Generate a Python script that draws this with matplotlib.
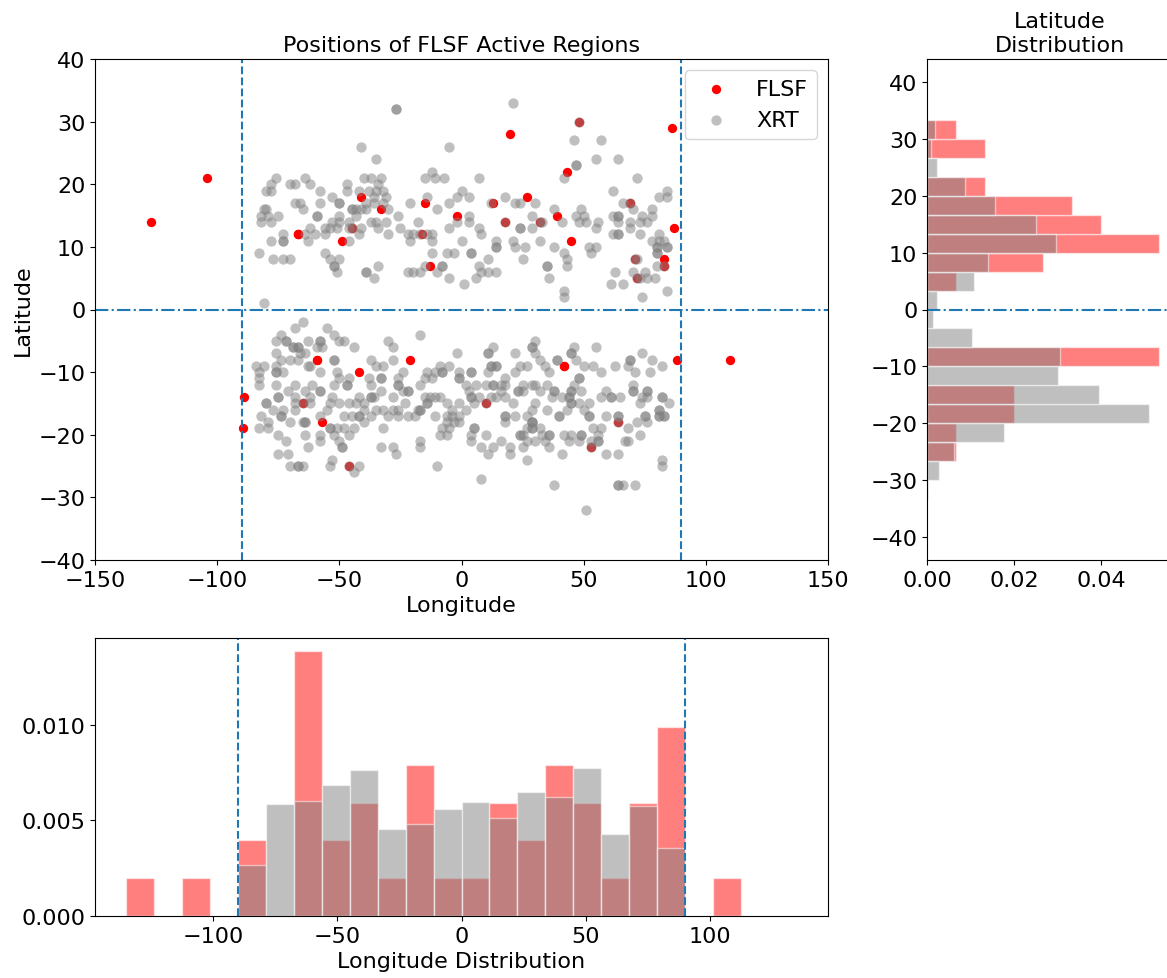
import matplotlib.pyplot as plt
import numpy as np

plt.rcParams['font.size'] = 16

# FLSF active region positions (some regions appear more than once)
flsf_lon = [-127, -104, -67, -67, -67, -49, -41, -44.8, -33, -15, -16, -13, -2, 20, 13,
            18, 27, 32, 39, 48, 43, 45, 69, 71, 72, 83, 83, 86, 87, 110,
            88, -89, -89.5, -65, -59, -59, -57, -42, -46, -21, 10, 42, 42, 53, 64]
flsf_lat = [14, 21, 12, 12, 12, 11, 18, 13, 16, 17, 12, 7, 15, 28, 17,
            14, 18, 14, 15, 30, 22, 11, 17, 8, 5, 8, 7, 29, 13, -8,
            -8, -14, -19, -15, -8, -8, -18, -10, -25, -8, -15, -9, -9, -22, -18]

# XRT regions, grouped by latitude row
xrt_north_lats = [33, 32, 30, 27, 26, 24, 23, 22, 21, 20, 19, 18, 17, 16, 15, 14, 13,
                  12, 11, 10, 9, 8, 7, 6, 5, 4, 3, 2, 1]
xrt_north_lons = [
    [21], [-27, -27], [48], [46, 57], [-41, -5], [-35, 55, 64], [47, 47], [-12],
    [-76, -64, -40, -37, -33, -15, -11, -7, 7, 42, 72],
    [-78, -70, -68, -62, -47, -34],
    [-80, -78, -58, -47, -42, -38, -35, -32, 0, 62, 84],
    [-53, -36, -31, -14, -2, 3, 18, 81, 84],
    [-68, -66, -58, -50, -50, -39, -36, -32, -21, -5, 12, 22, 24, 30, 66, 69],
    [-81, -80, -65, -45, -45, -43, -41, -39, -30, -10, 38, 49, 70, 78],
    [-82, -79, -75, -59, -59, -50, -43, -26, 3, 29, 47, 50, 62, 64, 64, 74, 78],
    [-82, -78, -53, -50, -46, -37, -35, -31, -18, -2, 3, 18, 32, 33, 41, 48, 51, 56, 64, 69, 73, 76],
    [-62, -56, -54, -51, -46, -45, -41, -34, -25, -5, 7, 24, 24, 29, 55, 69],
    [-73, -64, -60, -56, -42, -30, -22, -20, -17, -14, -12, 8, 62, 64, 64, 73, 81],
    [-78, -73, -73, -63, -46, -21, -12, 0, 14, 21, 32, 78, 81, 83],
    [14, 14, 22, 26, 38, 52, 55, 80, 80, 84, 84],
    [-83, -56, -12, -6, -3, 4, 4, 42, 53, 80, 80],
    [-77, -73, -70, -54, -50, 11, 25, 43, 71, 72],
    [-52, -52, -34, -15, -8, -8, 7, 35, 35, 43, 80, 83],
    [-51, -39, -39, -22, -20, -17, -10, 8, 11, 14, 63, 70, 75],
    [-36, -5, 6, 36, 72, 73, 76, 79],
    [1, 61, 66], [42, 84], [42, 74], [-81],
]
xrt_south_lats = [-2, -3, -4, -5, -6, -7, -8, -9, -10, -11, -12, -13, -14, -15, -16, -17,
                  -18, -19, -20, -21, -22, -23, -24, -25, -26, -27, -28, -32]
xrt_south_lons = [
    [-65], [-68, -55], [-74, -52, -17],
    [-76, -72, -72, -63, -58, -58, -50, -48, -30, 30],
    [-69, -69, -67, -67, -59, -57, -44, -28, 13, 29, 29, 46, 55],
    [-76, -66, -64, -2, 11, 11, 22, 30, 45, 45, 74],
    [-74, -70, -67, -52, -52, -37, -28, 32, 39, 39, 47, 69, 69, 78],
    [-84, -81, -76, -63, -62, -35, -32, -9, -5, 12, 12, 14, 14, 24, 27, 34, 50, 54, 63, 68, 82],
    [-83, -76, -76, -73, -58, -51, -24, -14, -11, -8, -8, -1, 4, 4, 11, 22, 36, 57, 71, 77],
    [-83, -50, -46, -38, -33, -33, -26, -15, -12, -1, -1, 18, 48, 48],
    [-83, -76, -68, -61, -52, -47, -47, -37, -26, -26, -17, 2, 6, 10, 13, 13, 16, 18, 25, 29, 30, 35, 46, 70],
    [-71, -64, -58, -58, -33, -24, -22, -22, 3, 16, 23, 23, 25, 32, 38, 38, 45, 45, 49, 59, 70, 70, 76, 76],
    [-75, -75, -68, -62, -53, -42, -37, -37, -36, -28, -15, -13, -11, -9, 4, 4, 7, 12, 14, 18,
     37, 41, 44, 44, 57, 61, 61, 65, 74, 76, 82, 82],
    [-80, -80, -68, -65, -62, -54, -50, -46, -43, -40, -23, -14, -14, -6, -1, 5, 10, 21, 30,
     45, 45, 48, 52, 73, 85],
    [-77, -73, -68, -55, -40, -35, -32, -28, -26, -18, -17, -17, -4, 2, 29, 35, 43, 50, 81, 81],
    [-82, -74, -74, -58, -48, -45, -42, -42, -37, -30, -26, -22, -19, -11, -6, -4, -1, 18, 18,
     22, 27, 40, 40, 52, 52, 59, 64, 64, 75, 75, 81, 81, 83, 83],
    [-79, -70, -65, -64, -64, -40, -6, -3, -1, 18, 29, 29, 29, 64, 72, 76],
    [-83, -79, -54, -54, -51, -48, -44, -32, -8, -5, 5, 5, 27, 29, 29, 32, 54, 57, 68],
    [-75, -64, -58, -52, -46, -9, -6, 4, 10, 24, 24, 25, 33, 36, 36, 42, 45, 49, 49, 56, 73],
    [-72, -58, -50, -17, 4, 16, 27, 30, 34, 44, 48, 53, 56, 56, 67, 68],
    [-63, -49, -49, -33, -28, -17, 8, 13, 20, 25, 36, 53],
    [-75, -71, -27, 11, 20, 41, 59, 64],
    [-53, 27, 82],
    [-70, -67, -67, -65, -54, -46, -42, -10, 82],
    [-44], [8], [38, 64, 64, 66, 71], [51],
]

# XRT histogram densities
lon_bins = np.linspace(-135, 135, 25)
lat_bins = np.linspace(-40, 40, 25)
xrt_lon_density = [0, 0, 0, 0, 0.00264, 0.00583, 0.00600, 0.00684, 0.00761, 0.00455,
                   0.00483, 0.00557, 0.00595, 0.00511, 0.00646, 0.00621, 0.00774, 0.00429,
                   0.00572, 0.00354, 0, 0, 0, 0]
xrt_lat_density = [0, 0, 0.0003, 0.00274, 0.00616, 0.01756, 0.051, 0.03944, 0.0301, 0.03055,
                   0.01041, 0.00129, 0.0022, 0.01072, 0.01391, 0.02964, 0.02508, 0.0155,
                   0.00866, 0.0022, 0.00091, 0.00182, 0, 0]

xrt_lon = []
xrt_lat = []
for lats, lons in [(xrt_north_lats, xrt_north_lons), (xrt_south_lats, xrt_south_lons)]:
    for lat, row in zip(lats, lons):
        xrt_lon += row
        xrt_lat += [lat] * len(row)

lon_centers = (lon_bins[:-1] + lon_bins[1:]) / 2
lat_centers = (lat_bins[:-1] + lat_bins[1:]) / 2

W, H = 1167, 979
fig = plt.figure(figsize=(W / 100, H / 100), dpi=100)

def add_axes_px(left, top, right, bottom):
    return fig.add_axes([left / W, 1 - bottom / H, (right - left) / W, (bottom - top) / H])

# main scatter
ax = add_axes_px(95, 60, 828, 561)
ax.scatter(flsf_lon, flsf_lat, c='red', s=45, linewidths=0, label='FLSF')
ax.scatter(xrt_lon, xrt_lat, c='gray', alpha=0.5, s=55, linewidths=0, label='XRT')
ax.axvline(-90, ls='--')
ax.axvline(90, ls='--')
ax.axhline(0, ls='-.')
ax.set_xlim(-150, 150)
ax.set_ylim(-40, 40)
ax.set_xlabel('Longitude')
ax.set_ylabel('Latitude')
ax.set_title('Positions of FLSF Active Regions', fontsize=16)
ax.legend(loc='upper right', fontsize=16)

# latitude distribution
ax_lat = add_axes_px(927, 60, 1171, 561)
ax_lat.hist(flsf_lat, bins=lat_bins, density=True, orientation='horizontal',
            color='red', alpha=0.5, edgecolor='white')
ax_lat.hist(lat_centers, bins=lat_bins, weights=xrt_lat_density, orientation='horizontal',
            color='gray', alpha=0.5, edgecolor='white')
ax_lat.axhline(0, ls='-.')
ax_lat.set_yticks([-40, -30, -20, -10, 0, 10, 20, 30, 40])
ax_lat.set_xticks([0.0, 0.02, 0.04])
ax_lat.set_xticklabels(['0.00', '0.02', '0.04'])
ax_lat.set_title('Latitude\nDistribution', fontsize=16, x=0.545)

# longitude distribution
ax_lon = add_axes_px(95, 639, 828, 917)
ax_lon.hist(flsf_lon, bins=lon_bins, density=True, color='red', alpha=0.5, edgecolor='white')
ax_lon.hist(lon_centers, bins=lon_bins, weights=xrt_lon_density, color='gray', alpha=0.5,
            edgecolor='white')
ax_lon.axvline(-90, ls='--')
ax_lon.axvline(90, ls='--')
ax_lon.set_xlim(-147.5, 147.5)
ax_lon.set_yticks([0.0, 0.005, 0.010])
ax_lon.set_xlabel('Longitude Distribution')

fig.savefig('out.png', dpi=100)
